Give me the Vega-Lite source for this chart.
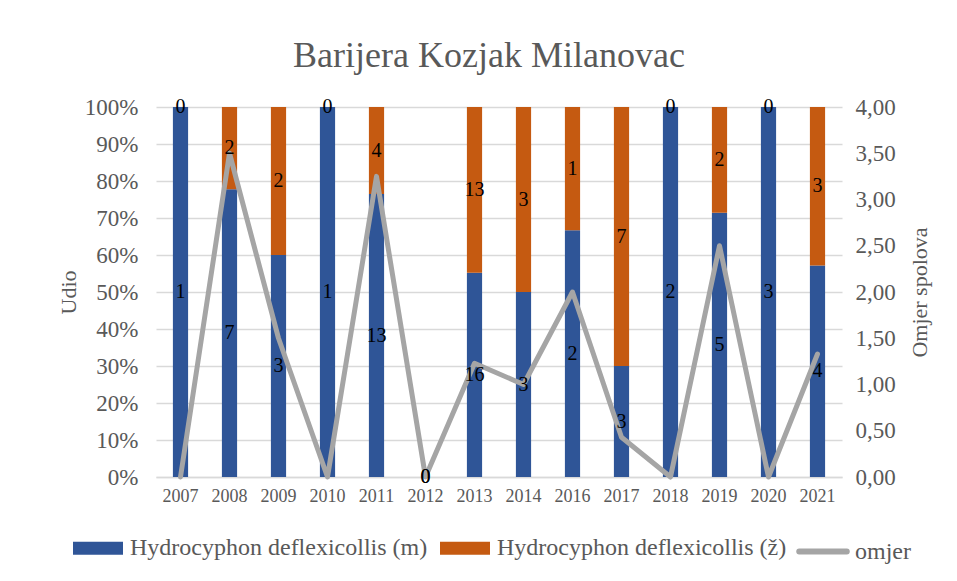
{
  "$schema": "https://vega.github.io/schema/vega-lite/v6.json",
  "width": 686,
  "height": 370,
  "autosize": {"type": "none"},
  "padding": {"left": 156, "top": 107, "right": 115, "bottom": 104},
  "background": "#ffffff",
  "title": {
    "text": "Barijera Kozjak Milanovac",
    "font": "Liberation Serif",
    "fontSize": 36,
    "fontWeight": "normal",
    "color": "#595959",
    "frame": "group",
    "anchor": "middle",
    "baseline": "alphabetic",
    "offset": -7,
    "dx": -10
  },
  "config": {
    "locale": {
      "number": {"decimal": ",", "thousands": ".", "grouping": [3], "currency": ["", " €"]}
    },
    "view": {"stroke": null},
    "axis": {
      "labelFont": "Liberation Serif",
      "titleFont": "Liberation Serif",
      "labelColor": "#595959",
      "titleColor": "#595959",
      "titleFontWeight": "normal",
      "ticks": false,
      "domain": false
    },
    "legend": {
      "labelFont": "Liberation Serif",
      "labelColor": "#595959"
    }
  },
  "datasets": {
    "counts": [
      {"year": "2007", "sex": "Hydrocyphon deflexicollis (m)", "count": 1},
      {"year": "2007", "sex": "Hydrocyphon deflexicollis (ž)", "count": 0},
      {"year": "2008", "sex": "Hydrocyphon deflexicollis (m)", "count": 7},
      {"year": "2008", "sex": "Hydrocyphon deflexicollis (ž)", "count": 2},
      {"year": "2009", "sex": "Hydrocyphon deflexicollis (m)", "count": 3},
      {"year": "2009", "sex": "Hydrocyphon deflexicollis (ž)", "count": 2},
      {"year": "2010", "sex": "Hydrocyphon deflexicollis (m)", "count": 1},
      {"year": "2010", "sex": "Hydrocyphon deflexicollis (ž)", "count": 0},
      {"year": "2011", "sex": "Hydrocyphon deflexicollis (m)", "count": 13},
      {"year": "2011", "sex": "Hydrocyphon deflexicollis (ž)", "count": 4},
      {"year": "2012", "sex": "Hydrocyphon deflexicollis (m)", "count": 0},
      {"year": "2012", "sex": "Hydrocyphon deflexicollis (ž)", "count": 0},
      {"year": "2013", "sex": "Hydrocyphon deflexicollis (m)", "count": 16},
      {"year": "2013", "sex": "Hydrocyphon deflexicollis (ž)", "count": 13},
      {"year": "2014", "sex": "Hydrocyphon deflexicollis (m)", "count": 3},
      {"year": "2014", "sex": "Hydrocyphon deflexicollis (ž)", "count": 3},
      {"year": "2016", "sex": "Hydrocyphon deflexicollis (m)", "count": 2},
      {"year": "2016", "sex": "Hydrocyphon deflexicollis (ž)", "count": 1},
      {"year": "2017", "sex": "Hydrocyphon deflexicollis (m)", "count": 3},
      {"year": "2017", "sex": "Hydrocyphon deflexicollis (ž)", "count": 7},
      {"year": "2018", "sex": "Hydrocyphon deflexicollis (m)", "count": 2},
      {"year": "2018", "sex": "Hydrocyphon deflexicollis (ž)", "count": 0},
      {"year": "2019", "sex": "Hydrocyphon deflexicollis (m)", "count": 5},
      {"year": "2019", "sex": "Hydrocyphon deflexicollis (ž)", "count": 2},
      {"year": "2020", "sex": "Hydrocyphon deflexicollis (m)", "count": 3},
      {"year": "2020", "sex": "Hydrocyphon deflexicollis (ž)", "count": 0},
      {"year": "2021", "sex": "Hydrocyphon deflexicollis (m)", "count": 4},
      {"year": "2021", "sex": "Hydrocyphon deflexicollis (ž)", "count": 3}
    ],
    "ratio": [
      {"year": "2007", "omjer": 0},
      {"year": "2008", "omjer": 3.5},
      {"year": "2009", "omjer": 1.5},
      {"year": "2010", "omjer": 0},
      {"year": "2011", "omjer": 3.25},
      {"year": "2012", "omjer": 0},
      {"year": "2013", "omjer": 1.23},
      {"year": "2014", "omjer": 1.0},
      {"year": "2016", "omjer": 2.0},
      {"year": "2017", "omjer": 0.43},
      {"year": "2018", "omjer": 0},
      {"year": "2019", "omjer": 2.5},
      {"year": "2020", "omjer": 0},
      {"year": "2021", "omjer": 1.33}
    ]
  },
  "encoding": {
    "x": {
      "field": "year",
      "type": "nominal",
      "scale": {
        "type": "band",
        "domain": ["2007","2008","2009","2010","2011","2012","2013","2014","2016","2017","2018","2019","2020","2021"],
        "paddingInner": 0.69,
        "paddingOuter": 0.345
      },
      "axis": {
        "title": null,
        "labelAngle": 0,
        "labelFontSize": 18,
        "labelPadding": 10,
        "domain": true,
        "domainColor": "#d9d9d9",
        "domainWidth": 1.5
      }
    }
  },
  "layer": [
    {
      "data": {"name": "counts"},
      "transform": [
        {"stack": "count", "groupby": ["year"], "sort": [{"field": "sex"}], "as": ["y0", "y1"], "offset": "normalize"},
        {"filter": "isFinite(datum.y0) && isFinite(datum.y1)"}
      ],
      "mark": {"type": "bar"},
      "encoding": {
        "y": {
          "field": "y0",
          "type": "quantitative",
          "scale": {"domain": [0, 1], "nice": false},
          "axis": {
            "orient": "left",
            "title": "Udio",
            "titleFontSize": 22,
            "titlePadding": 4,
            "format": ".0%",
            "values": [0, 0.1, 0.2, 0.3, 0.4, 0.5, 0.6, 0.7, 0.8, 0.9, 1],
            "labelFontSize": 23,
            "labelPadding": 18,
            "grid": true,
            "gridColor": "#d9d9d9",
            "gridWidth": 1.5
          }
        },
        "y2": {"field": "y1"},
        "color": {
          "field": "sex",
          "type": "nominal",
          "scale": {
            "domain": ["Hydrocyphon deflexicollis (m)", "Hydrocyphon deflexicollis (ž)", "omjer"],
            "range": ["#2F5597", "#C55A11", "#A5A5A5"]
          },
          "legend": {
            "title": null,
            "orient": "none",
            "direction": "horizontal",
            "columns": 3,
            "legendX": -86,
            "legendY": 413,
            "labelFontSize": 24,
            "labelLimit": 500,
            "labelOffset": 4,
            "columnPadding": 0,
            "symbolSize": 2500,
            "symbolType": "M-1,-0.26H1V0.26H-1Z",
            "encode": {
              "symbols": {
                "update": {
                  "shape": {"signal": "datum.value === 'omjer' ? 'M-0.95,0H0.95' : 'M-1,-0.26H1V0.26H-1Z'"},
                  "fill": {"signal": "datum.value === 'omjer' ? 'transparent' : (indexof(datum.value, '(m)') >= 0 ? '#2F5597' : '#C55A11')"},
                  "stroke": {"signal": "datum.value === 'omjer' ? '#A5A5A5' : 'transparent'"},
                  "strokeWidth": {"value": 6},
                  "strokeCap": {"value": "round"},
                  "opacity": {"value": 1}
                }
              }
            }
          }
        }
      }
    },
    {
      "data": {"name": "ratio"},
      "mark": {"type": "line", "color": "#A5A5A5", "strokeWidth": 5, "strokeCap": "round", "strokeJoin": "round"},
      "encoding": {
        "y": {
          "field": "omjer",
          "type": "quantitative",
          "scale": {"domain": [0, 4], "nice": false},
          "axis": {
            "orient": "right",
            "title": "Omjer spolova",
            "titleFontSize": 22,
            "titleAngle": 270,
            "titleBaseline": "top",
            "titlePadding": 14,
            "format": ".2f",
            "values": [0, 0.5, 1, 1.5, 2, 2.5, 3, 3.5, 4],
            "labelFontSize": 23,
            "labelPadding": 13,
            "grid": false
          }
        }
      }
    },
    {
      "data": {"name": "counts"},
      "transform": [
        {"stack": "count", "groupby": ["year"], "sort": [{"field": "sex"}], "as": ["y0", "y1"], "offset": "normalize"},
        {"calculate": "isFinite(datum.y0) && isFinite(datum.y1) ? (datum.y0 + datum.y1) / 2 : 0", "as": "mid"}
      ],
      "mark": {"type": "text", "font": "Liberation Serif", "fontSize": 20, "color": "#000000", "baseline": "middle", "align": "center"},
      "encoding": {
        "y": {"field": "mid", "type": "quantitative", "scale": {"domain": [0, 1], "nice": false}, "axis": null},
        "text": {"field": "count", "type": "quantitative"}
      }
    }
  ],
  "resolve": {"scale": {"y": "independent"}}
}
